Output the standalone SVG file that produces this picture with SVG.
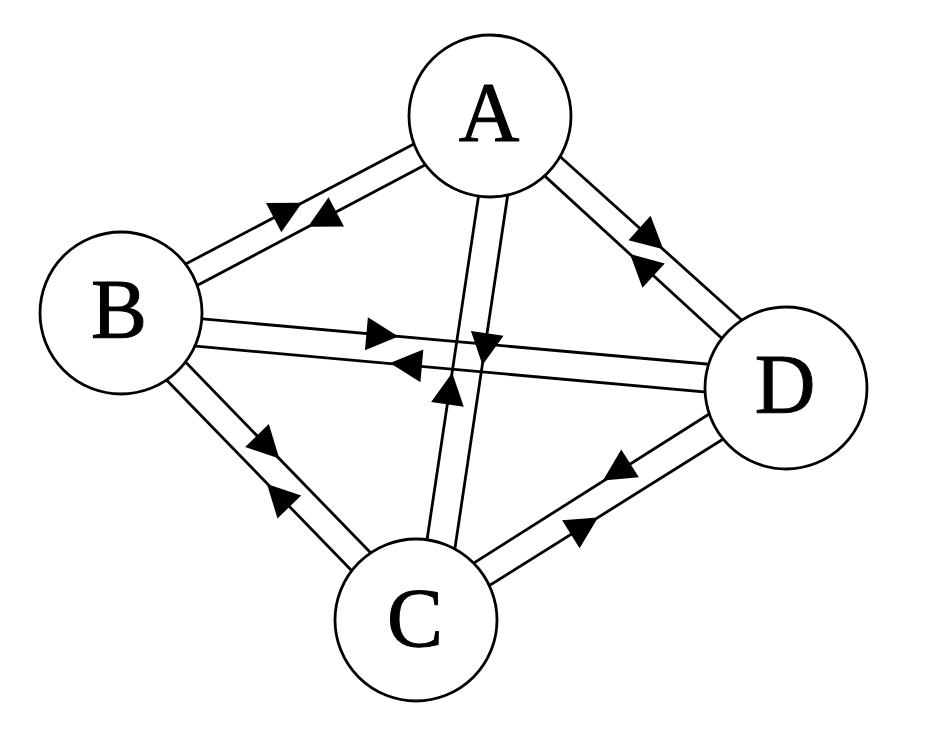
<svg xmlns="http://www.w3.org/2000/svg" xmlns:xlink="http://www.w3.org/1999/xlink" width="934" height="743" viewBox="0 0 934 743">
<style>
.ln{stroke:#000;stroke-width:2.8;fill:none;stroke-linecap:butt}
.nd{fill:#fff;stroke:#000;stroke-width:2.8}
.lb{font-family:"Liberation Serif","Times New Roman",serif;font-size:84px;fill:#000;stroke:#000;stroke-width:1;text-anchor:middle}
</style>
<defs>
<path id="arr" d="M0,0 L-32,-16.5 L-32,16.5 Z" fill="#000"/>
</defs>
<rect x="0" y="0" width="934" height="743" fill="#fff"/>
<g id="connectors">
<line class="ln" x1="160" y1="277.5" x2="440" y2="130.3"/>
<line class="ln" x1="170" y1="299.8" x2="450" y2="151.7"/>
<line class="ln" x1="482" y1="173" x2="424" y2="560"/>
<line class="ln" x1="511" y1="173" x2="452" y2="568"/>
<line class="ln" x1="540" y1="138.5" x2="760" y2="336.5"/>
<line class="ln" x1="525" y1="157.9" x2="740" y2="355"/>
<line class="ln" x1="170" y1="346.1" x2="390" y2="572.7"/>
<line class="ln" x1="150" y1="362.9" x2="370" y2="589.5"/>
<line class="ln" x1="160" y1="315.1" x2="740" y2="367"/>
<line class="ln" x1="160" y1="342.9" x2="740" y2="395.2"/>
<line class="ln" x1="450" y1="578.1" x2="740" y2="394.5"/>
<line class="ln" x1="465" y1="600.7" x2="750" y2="422.3"/>
<use xlink:href="#arr" transform="translate(302,202.7) rotate(-27.7)"/>
<use xlink:href="#arr" transform="translate(308,226.8) rotate(152.1)"/>
<use xlink:href="#arr" transform="translate(398.3,336.6) rotate(5.1)"/>
<use xlink:href="#arr" transform="translate(390,363) rotate(185.1)"/>
<use xlink:href="#arr" transform="translate(482.5,365) rotate(98.5)"/>
<use xlink:href="#arr" transform="translate(452.2,372.7) rotate(-81.5)"/>
<use xlink:href="#arr" transform="translate(663.3,249.3) rotate(42)"/>
<use xlink:href="#arr" transform="translate(630,254) rotate(222.5)"/>
<use xlink:href="#arr" transform="translate(279.3,458.5) rotate(45.8)"/>
<use xlink:href="#arr" transform="translate(267,484) rotate(225.8)"/>
<use xlink:href="#arr" transform="translate(603,480.5) rotate(147.7)"/>
<use xlink:href="#arr" transform="translate(598,517.4) rotate(-32)"/>
</g>
<g id="node-A">
<circle class="nd" cx="490" cy="116" r="81"/>
<text class="lb" x="489" y="141">A</text>
</g>
<g id="node-B">
<circle class="nd" cx="121" cy="313" r="81"/>
<text class="lb" x="119" y="338">B</text>
</g>
<g id="node-C">
<circle class="nd" cx="416" cy="620" r="81"/>
<text class="lb" x="415" y="647">C</text>
</g>
<g id="node-D">
<circle class="nd" cx="786" cy="388" r="81"/>
<text class="lb" x="785" y="413">D</text>
</g>
</svg>
